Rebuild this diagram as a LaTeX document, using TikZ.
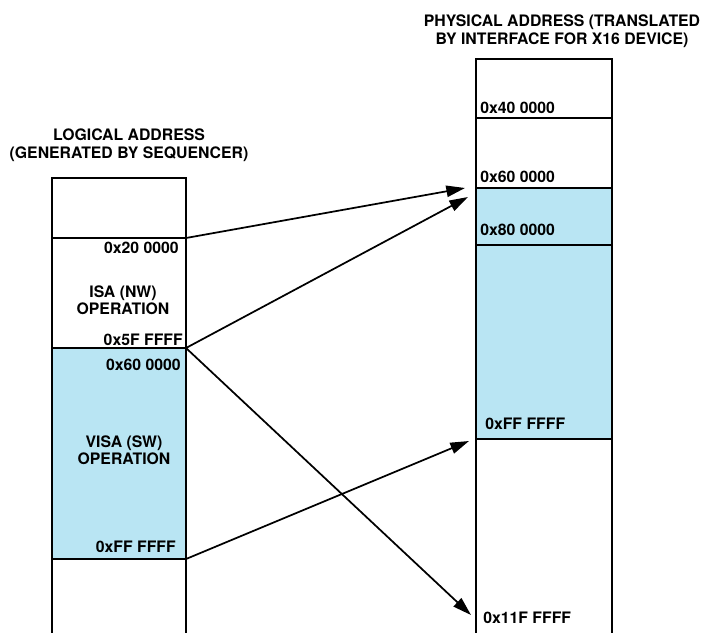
\documentclass[tikz,border=0pt]{standalone}
\usepackage{fontspec}
\setmainfont{TeX Gyre Heros}
\usepackage{xcolor}
\definecolor{visablue}{HTML}{B9E5F3}
\usetikzlibrary{positioning, arrows.meta}

\begin{document}
\begin{tikzpicture}[
  x=0.75pt, y=-0.75pt,
  font=\fontsize{11.85}{13.1}\selectfont\bfseries,
  lseg/.style={draw=black, line width=1.5pt, outer sep=0pt, inner sep=0pt,
               minimum width=100.5pt},
  rseg/.style={draw=black, line width=1.5pt, outer sep=0pt, inner sep=0pt,
               minimum width=102pt},
  title/.style={align=center, inner sep=0pt},
  addr/.style={inner sep=0pt},
  map/.style={-{Triangle[length=14pt, width=8.5pt]}, line width=1.3pt}
]
  \clip (0,0) rectangle (703,632);

  % logical address map
  \node[lseg, minimum height=45pt, anchor=north west] (ltop) at (52,178) {};
  \node[lseg, minimum height=82.5pt, below=0pt of ltop] (isa) {};
  \node[lseg, minimum height=158.25pt, fill=visablue, below=0pt of isa] (visa) {};
  \node[lseg, minimum height=75pt, below=0pt of visa] (lbot) {};

  % physical address map
  \node[rseg, minimum height=44.25pt, anchor=north west] (p40) at (476,59) {};
  \node[rseg, minimum height=52.5pt, below=0pt of p40] (p60) {};
  \node[rseg, minimum height=42.75pt, fill=visablue, below=0pt of p60] (p80) {};
  \node[rseg, minimum height=145.5pt, fill=visablue, below=0pt of p80] (pff) {};
  \node[rseg, minimum height=150pt, below=0pt of pff] (p11f) {};

  \node[title] (ltitle) at (129,145) {LOGICAL ADDRESS\\(GENERATED BY SEQUENCER)};
  \node[title] (ptitle) at (562,31) {PHYSICAL ADDRESS (TRANSLATED\\BY INTERFACE FOR X16 DEVICE)};
  \node[title] (isalbl) at (123,300) {ISA (NW)\\OPERATION};
  \node[title] (visalbl) at (124,450) {VISA (SW)\\OPERATION};

  \node[addr, anchor=base east] (a20) at (179,253) {0x20 0000};
  \node[addr, anchor=base east] (a5f) at (183,345) {0x5F FFFF};
  \node[addr, anchor=base east] (a60) at (181,370) {0x60 0000};
  \node[addr, anchor=base east] (aff) at (176,552) {0xFF FFFF};

  \node[addr, anchor=base west] (b40) at (480,113) {0x40 0000};
  \node[addr, anchor=base west] (b60) at (480,182) {0x60 0000};
  \node[addr, anchor=base west] (b80) at (480,235) {0x80 0000};
  \node[addr, anchor=base west] (bff) at (485,429) {0xFF FFFF};
  \node[addr, anchor=base west] (b11f) at (483,623) {0x11F FFFF};

  % arrow tips beside the physical map
  \coordinate (t20) at (465,188);
  \coordinate (t5f) at (468,197);
  \coordinate (t60) at (471,615);
  \coordinate (tff) at (469,441);

  \draw[map] (isa.north east)  -- (t20);
  \draw[map] (isa.south east)  -- (t5f);
  \draw[map] (visa.north east) -- (t60);
  \draw[map] (visa.south east) -- (tff);
\end{tikzpicture}
\end{document}
